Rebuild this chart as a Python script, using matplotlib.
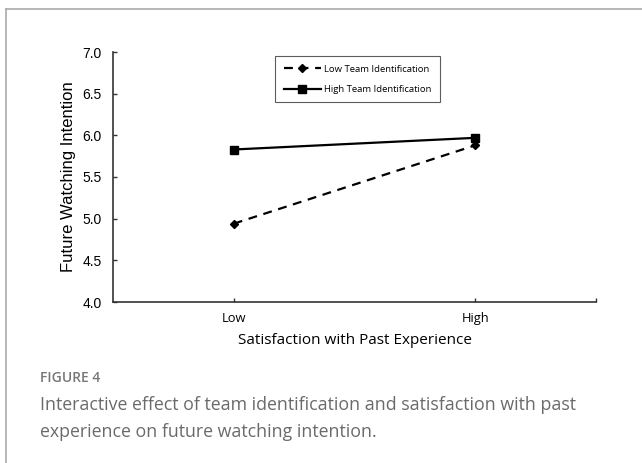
import matplotlib
matplotlib.use("Agg")
import matplotlib.pyplot as plt
from matplotlib.lines import Line2D

# data
categories = ["Low", "High"]
low_team = [4.94, 5.88]
high_team = [5.83, 5.97]
y_ticks = [4.0, 4.5, 5.0, 5.5, 6.0, 6.5, 7.0]

fig = plt.figure(figsize=(6.42, 4.63), dpi=100)

# frame lines of the figure panel (top and left)
fig.add_artist(Line2D([6 / 642, 6 / 642], [0, 1 - 9 / 463], color="#aaaaaa", lw=1.2))
fig.add_artist(Line2D([6 / 642, 1], [1 - 9 / 463, 1 - 9 / 463], color="#aaaaaa", lw=1.2))

ax = fig.add_axes([113 / 642, 1 - 302 / 463, (596 - 113) / 642, 250 / 463])
x = list(range(len(categories)))
ax.plot(x, low_team, color="black", lw=1.6, ls=(0, (4, 3)), marker="D", ms=4,
        label="Low Team Identification")
ax.plot(x, high_team, color="black", lw=1.6, marker="s", ms=6,
        label="High Team Identification")

ax.set_xlim(-0.5, 1.5)
ax.set_ylim(4.0, 7.0)
ax.set_yticks(y_ticks)
ax.set_yticklabels([f"{v:.1f}" for v in y_ticks], fontsize=10, family="Liberation Sans")
ax.set_xticks(x)
ax.set_xticklabels(categories, fontsize=9.3, family="Open Sans")
ax.set_xticks([1.5], minor=True)
ax.tick_params(axis="both", which="both", direction="in", length=3, width=1, color="#333333")
ax.tick_params(axis="x", pad=7)
ax.tick_params(axis="y", pad=8)
for side in ["top", "right"]:
    ax.spines[side].set_visible(False)
for side in ["left", "bottom"]:
    ax.spines[side].set_color("#333333")
    ax.spines[side].set_linewidth(1.2)

ax.set_ylabel("Future Watching Intention", fontsize=12, family="Liberation Sans", labelpad=5)
ax.set_xlabel("Satisfaction with Past Experience", fontsize=11, family="Open Sans", labelpad=6)

leg = ax.legend(loc="upper left", bbox_to_anchor=((275 - 113) / 483, 1 - (56 - 52) / 250),
                borderaxespad=0, prop={"family": "Open Sans", "size": 6.8}, frameon=True,
                fancybox=False, edgecolor="#333333", handlelength=4.0, borderpad=0.9,
                labelspacing=1.2, handletextpad=0.3)
leg.get_frame().set_linewidth(0.8)

fig.text(40 / 642, 1 - 378 / 463, "FIGURE 4", fontsize=10, family="Open Sans",
         weight="semibold", color="#777777", va="center")
fig.text(40 / 642, 1 - 405 / 463,
         "Interactive effect of team identification and satisfaction with past",
         fontsize=12.8, family="Open Sans", color="#6a6a6a", va="center")
fig.text(40 / 642, 1 - 432 / 463, "experience on future watching intention.",
         fontsize=12.8, family="Open Sans", color="#6a6a6a", va="center")

fig.savefig("out.png", dpi=100)
